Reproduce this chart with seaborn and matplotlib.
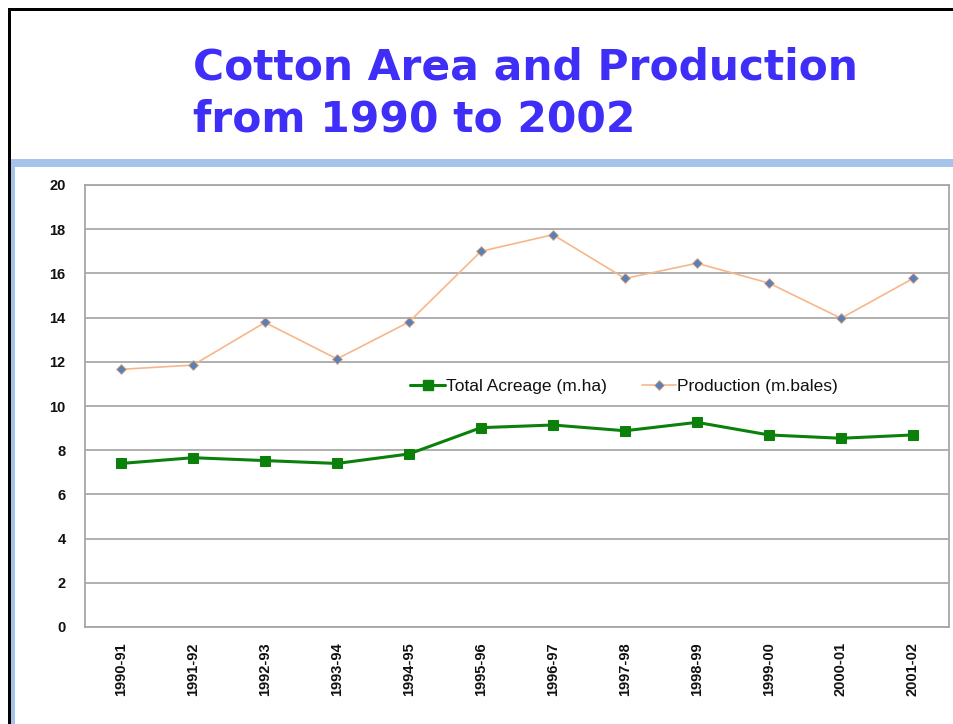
import matplotlib
matplotlib.use("Agg")
import matplotlib.pyplot as plt
from matplotlib.lines import Line2D
from matplotlib.patches import Rectangle
import seaborn as sns
import pandas as pd

seasons = ["1990-91", "1991-92", "1992-93", "1993-94", "1994-95", "1995-96",
           "1996-97", "1997-98", "1998-99", "1999-00", "2000-01", "2001-02"]
acreage = [7.4, 7.66, 7.53, 7.4, 7.83, 9.02, 9.14, 8.88, 9.26, 8.69, 8.54, 8.69]
production = [11.66, 11.85, 13.78, 12.13, 13.8, 17.0, 17.75, 15.77, 16.46, 15.56, 13.97, 15.77]
y_ticks = [0, 2, 4, 6, 8, 10, 12, 14, 16, 18, 20]

sns.set_theme(style="white")
plt.rcParams["font.family"] = ["Liberation Sans", "DejaVu Sans"]

df = pd.DataFrame({"season": seasons, "acreage": acreage, "production": production})

fig = plt.figure(figsize=(9.54, 7.24), dpi=100)
fig.patch.set_facecolor("white")

# slide frame: black border top/left, blue header rule and left strip
fig.add_artist(Rectangle((8 / 954, 0), 3 / 954, 1 - 9 / 724, transform=fig.transFigure,
                         facecolor="black", edgecolor="none"))
fig.add_artist(Rectangle((8 / 954, 1 - 11 / 724), 1, 3 / 724, transform=fig.transFigure,
                         facecolor="black", edgecolor="none"))
fig.add_artist(Rectangle((11 / 954, 1 - 167 / 724), 1, 8 / 724, transform=fig.transFigure,
                         facecolor="#a6c4ea", edgecolor="none"))
fig.add_artist(Rectangle((11 / 954, 0), 4 / 954, 1 - 167 / 724, transform=fig.transFigure,
                         facecolor="#a6c4ea", edgecolor="none"))

title_font = dict(color="#3e2ef7", fontsize=30.5, fontweight="bold", va="center", ha="left",
                  family=["DejaVu Sans"])
fig.text(193 / 954, 1 - 67 / 724, "Cotton Area and Production", **title_font)
fig.text(193 / 954, 1 - 119 / 724, "from 1990 to 2002", **title_font)

ax = fig.add_axes([85 / 954, 1 - 627 / 724, 864 / 954, 442 / 724])
ax.set_facecolor("white")

sns.lineplot(data=df, x="season", y="acreage", ax=ax, color="#0b800b", linewidth=2.2,
             marker="s", markersize=7, markeredgecolor="#0b800b", markerfacecolor="#0b800b",
             label="Total Acreage (m.ha)", legend=False, zorder=3)
sns.lineplot(data=df, x="season", y="production", ax=ax, color="#f7b68a", linewidth=1.2,
             marker="D", markersize=5, markerfacecolor="#5a80b8", markeredgecolor="#e9a878",
             markeredgewidth=0.6, label="Production (m.bales)", legend=False, zorder=3)

ax.set_xlim(-0.5, len(seasons) - 0.5)
ax.set_ylim(0, 20)
ax.set_yticks(y_ticks)
ax.set_yticklabels([str(v) for v in y_ticks], fontsize=10.5, fontweight="bold", color="#111111")
ax.set_xticks(range(len(seasons)))
ax.set_xticklabels(seasons, rotation=90, fontsize=10.5, fontweight="bold", color="#111111")
ax.tick_params(axis="y", length=0, pad=14)
ax.tick_params(axis="x", length=0, pad=11)
ax.set_xlabel("")
ax.set_ylabel("")
ax.grid(axis="y", color="#9a9a9a", linewidth=1.1)
ax.set_axisbelow(True)
for sp in ax.spines.values():
    sp.set_color("#a6a6a6")
    sp.set_linewidth(1.3)

handles = [
    Line2D([], [], color="#0b800b", linewidth=2.2, marker="s", markersize=7),
    Line2D([], [], color="#f7b68a", linewidth=1.2, marker="D", markersize=5,
           markerfacecolor="#5a80b8", markeredgecolor="#e9a878", markeredgewidth=0.6),
]
ax.legend(handles, ["Total Acreage (m.ha)", "Production (m.bales)"], ncol=2,
          loc="center", bbox_to_anchor=(0.624, 0.545), frameon=False, fontsize=12.5,
          handlelength=2.0, handletextpad=0.05, columnspacing=2.0, labelcolor="#111111")

fig.savefig("out.png", dpi=100, facecolor="white")
